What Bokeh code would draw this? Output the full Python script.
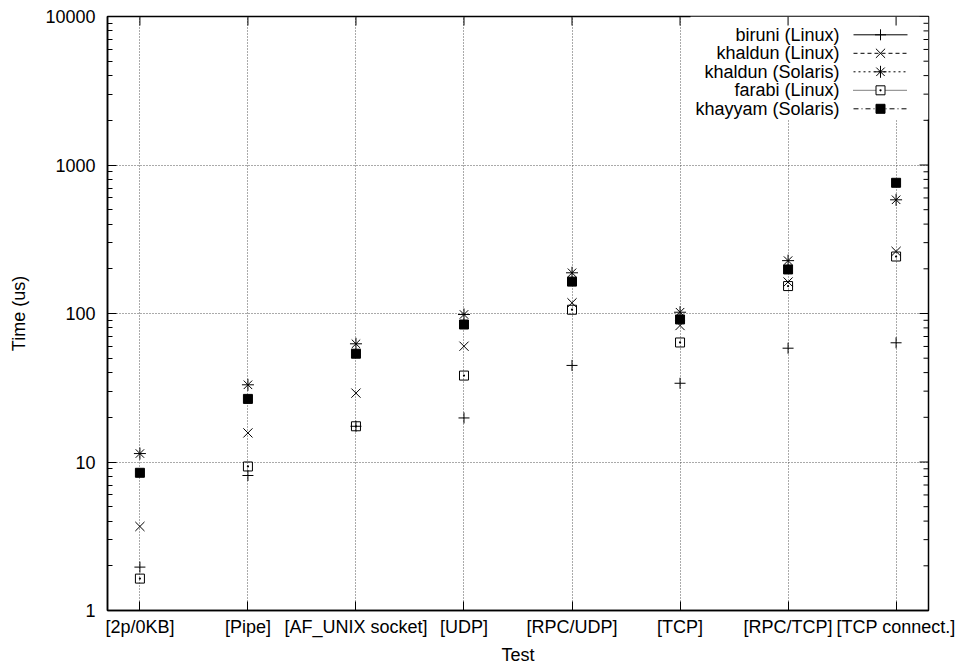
from bokeh.plotting import figure
from bokeh.models import Range1d, FixedTicker, LogTicker, BoxAnnotation, PrintfTickFormatter
from bokeh.core.properties import value
from bokeh.embed import file_html
from bokeh.resources import INLINE

# Benchmark results: latency per test, in microseconds
tests = ["[2p/0KB]", "[Pipe]", "[AF_UNIX socket]", "[UDP]",
         "[RPC/UDP]", "[TCP]", "[RPC/TCP]", "[TCP connect.]"]
biruni_linux = [1.96, 8.11, 17.4, 19.8, 44.7, 33.9, 58.4, 63.5]
khaldun_linux = [3.68, 15.7, 29.1, 60.2, 118, 83, 163, 262]
khaldun_solaris = [11.4, 33.1, 62.5, 98.5, 188, 102, 227, 583]
farabi_linux = [1.64, 9.33, 17.4, 38.2, 106, 63.8, 153, 242]
khayyam_solaris = [8.46, 26.6, 53.6, 84.3, 164, 91.2, 198, 759]

# name, values, marker, marker size, fill, key line dash
series = [
    ("biruni (Linux)", biruni_linux, "cross", 11, None, "solid"),
    ("khaldun (Linux)", khaldun_linux, "x", 13, None, "4 3"),
    ("khaldun (Solaris)", khaldun_solaris, "asterisk", 12, None, "2 3"),
    ("farabi (Linux)", farabi_linux, "square_dot", 9, None, "1 1"),
    ("khayyam (Solaris)", khayyam_solaris, "square", 9, "black", "5 3 1 3"),
]

FONT = "Liberation Sans"
FS = "18px"
W, H = 962, 670
LEFT, RIGHT, TOP, BOTTOM = 107, 928, 16, 610
X0, X1 = -0.3, 7.3
Y0, Y1 = 1, 10000
MAJOR_LEN, MINOR_LEN = 9, 5

p = figure(width=W, height=H, output_backend="svg", toolbar_location=None,
           x_range=Range1d(X0, X1), y_range=Range1d(Y0, Y1), y_axis_type="log",
           min_border_left=LEFT, min_border_right=W - RIGHT,
           min_border_top=TOP, min_border_bottom=H - BOTTOM,
           x_axis_label="Test", y_axis_label="Time (us)")
p.outline_line_color = "black"
p.outline_line_width = 1.5
p.background_fill_color = "white"
p.border_fill_color = "white"


def frame_x(px):
    return X0 + (px - LEFT) / (RIGHT - LEFT) * (X1 - X0)


def frame_y(py):
    return 10 ** (4 - (py - TOP) / (BOTTOM - TOP) * 4)


xs = list(range(len(tests)))
cat_ticker = FixedTicker(ticks=xs, minor_ticks=[])


def style_axis(ax):
    ax.major_tick_in = MAJOR_LEN
    ax.major_tick_out = 0
    ax.minor_tick_in = MINOR_LEN
    ax.minor_tick_out = 0
    ax.major_tick_line_color = "black"
    ax.minor_tick_line_color = "black"
    ax.axis_line_color = "black"
    ax.axis_line_width = 1.5
    ax.major_label_text_font = FONT
    ax.major_label_text_font_size = FS
    ax.major_label_text_color = "black"
    ax.axis_label_text_font = FONT
    ax.axis_label_text_font_size = FS
    ax.axis_label_text_font_style = "normal"
    ax.axis_label_text_color = "black"


xa = p.xaxis[0]
xa.ticker = cat_ticker
xa.major_label_overrides = {i: t for i, t in enumerate(tests)}
style_axis(xa)
xa.major_label_standoff = 6
xa.axis_label_standoff = 5

ya = p.yaxis[0]
ya.ticker = LogTicker(num_minor_ticks=10)
ya.formatter = PrintfTickFormatter(format="%d")
style_axis(ya)
ya.major_label_standoff = 12
ya.axis_label_standoff = 13

for g in (p.xgrid[0], p.ygrid[0]):
    g.grid_line_color = "#555555"
    g.grid_line_dash = "1 2"
    g.grid_line_width = 1
p.xgrid[0].ticker = cat_ticker

# opaque key area
p.add_layout(BoxAnnotation(left=frame_x(690), right=X1, top=Y1, bottom=frame_y(119),
                           fill_color="white", fill_alpha=1, line_color=None,
                           level="underlay"))

# mirrored tick marks on the top and right borders
decades = [10 ** d for d in range(5)]
minors = [m * 10 ** d for d in range(4) for m in range(2, 10)]
p.segment(x0=[X1] * len(decades), y0=decades,
          x1=[frame_x(RIGHT - MAJOR_LEN)] * len(decades), y1=decades,
          line_color="black", line_width=1)
p.segment(x0=[X1] * len(minors), y0=minors,
          x1=[frame_x(RIGHT - MINOR_LEN)] * len(minors), y1=minors,
          line_color="black", line_width=1)
p.segment(x0=xs, y0=[Y1] * len(xs), x1=xs, y1=[frame_y(TOP + MAJOR_LEN)] * len(xs),
          line_color="black", line_width=1)

# data points
for name, vals, marker, size, fill, dash in series:
    p.scatter(xs, vals, marker=marker, size=size, line_color="black", line_width=1,
              fill_color=fill if fill else None)

# key
row0, row_step = 34.3, 18.5
for i, (name, vals, marker, size, fill, dash) in enumerate(series):
    yk = frame_y(row0 + i * row_step)
    p.text(x=[frame_x(839)], y=[yk], text=[name], text_align="right",
           text_baseline="middle", text_font=value(FONT), text_font_size=FS,
           text_color="black")
    p.line([frame_x(853), frame_x(907)], [yk, yk], line_color="black",
           line_width=1, line_dash=dash)
    p.scatter([frame_x(880)], [yk], marker=marker, size=size, line_color="black",
              line_width=1, fill_color=fill if fill else "white")

open("out.html", "w").write(file_html(p, INLINE))
